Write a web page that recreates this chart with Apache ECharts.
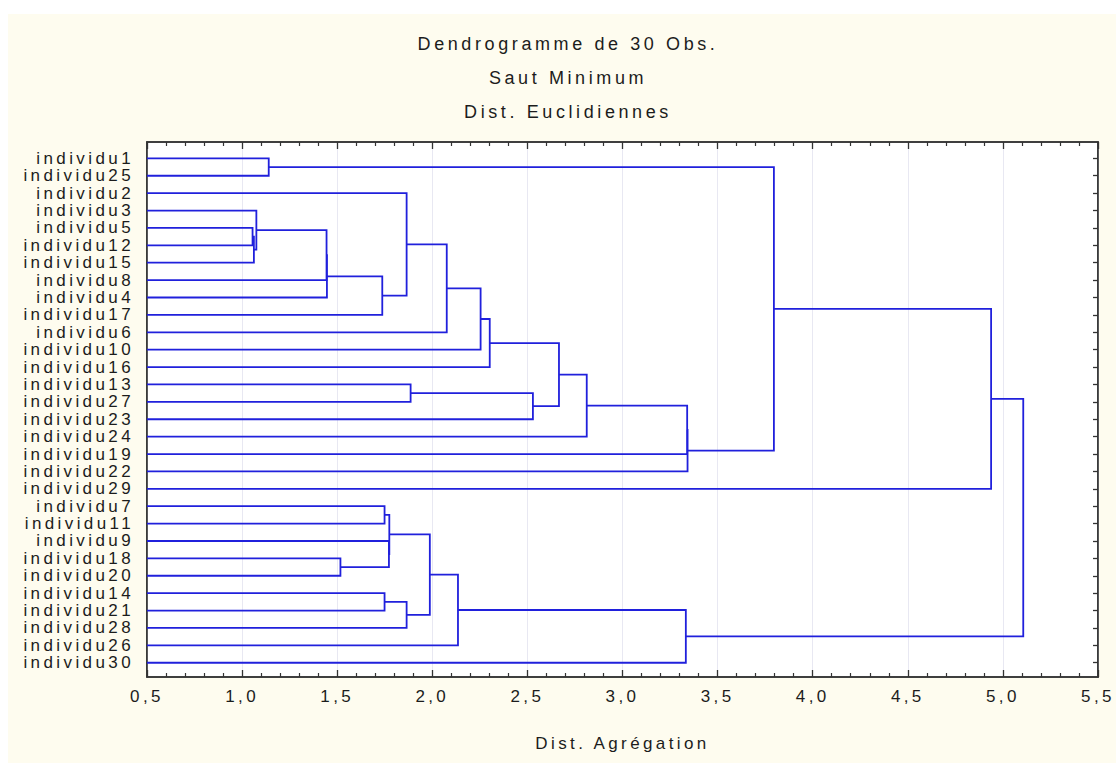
<!DOCTYPE html>
<html>
<head>
<meta charset="utf-8">
<title>Dendrogramme de 30 Obs.</title>
<script src="https://cdn.jsdelivr.net/npm/echarts@6/dist/echarts.min.js"></script>
<style>
  html, body { margin: 0; padding: 0; background: #ffffff; }
  #wrap { position: relative; width: 1116px; height: 763px; overflow: hidden; }
  #panel { position: absolute; left: 8px; top: 14px; right: 0; bottom: 0; background: #fefcef; }
  #chart { position: absolute; left: 0; top: 0; width: 1116px; height: 763px; }
</style>
</head>
<body>
<div id="wrap">
  <div id="panel"></div>
  <div id="chart"></div>
</div>
<script>
// Leaves, top to bottom
const leafNames = [
  'individu1', 'individu25', 'individu2', 'individu3', 'individu5', 'individu12',
  'individu15', 'individu8', 'individu4', 'individu17', 'individu6', 'individu10',
  'individu16', 'individu13', 'individu27', 'individu23', 'individu24', 'individu19',
  'individu22', 'individu29', 'individu7', 'individu11', 'individu9', 'individu18',
  'individu20', 'individu14', 'individu21', 'individu28', 'individu26', 'individu30'
];

// Merge steps: a leaf name or the index of an earlier merge, joined at a distance
const mergeLeft = [
  'individu1', 'individu5', 1, 'individu3', 3, 4, 5, 'individu2', 7, 8,
  9, 'individu13', 11, 10, 13, 14, 15, 0, 17, 'individu18',
  'individu7', 'individu14', 'individu9', 20, 21, 23, 25, 26, 18
];
const mergeRight = [
  'individu25', 'individu12', 'individu15', 2, 'individu8', 'individu4', 'individu17', 6, 'individu6', 'individu10',
  'individu16', 'individu27', 'individu23', 12, 'individu24', 'individu19', 'individu22', 16, 'individu29', 'individu20',
  'individu11', 'individu21', 19, 22, 'individu28', 24, 'individu26', 'individu30', 27
];
const mergeHeight = [
  1.14, 1.055, 1.062, 1.075, 1.444, 1.446, 1.737, 1.865, 2.076, 2.254,
  2.302, 1.886, 2.529, 2.666, 2.812, 3.340, 3.342, 3.796, 4.938, 1.517,
  1.749, 1.749, 1.772, 1.774, 1.865, 1.987, 2.135, 3.333, 5.107
];

const titleLines = ['Dendrogramme de 30 Obs.', 'Saut Minimum', 'Dist. Euclidiennes'];
const xAxisName = 'Dist. Agrégation';

const X_MIN = 0.5, X_MAX = 5.5, X_STEP = 0.5;
const FONT = "'Liberation Sans', Arial, sans-serif";
const INK = '#1c1c1c';
const FRAME = '#333333';
const LINK = '#2020dc';

// Position of every node: leaves sit on the left edge, merges at their distance,
// vertically halfway between the two joined nodes.
const leafPos = {};
leafNames.forEach((n, i) => { leafPos[n] = { h: X_MIN, y: i + 1 }; });
const mergePos = [];
const links = [];
mergeHeight.forEach((h, k) => {
  const pick = r => (typeof r === 'number' ? mergePos[r] : leafPos[r]);
  const a = pick(mergeLeft[k]);
  const b = pick(mergeRight[k]);
  mergePos[k] = { h: h, y: (a.y + b.y) / 2 };
  links.push([a.h, a.y, b.h, b.y, h]);
});

const rowValues = leafNames.map((_, i) => i + 1);

const chart = echarts.init(document.getElementById('chart'), null, { renderer: 'svg' });

const xAxisBase = {
  type: 'value',
  min: X_MIN,
  max: X_MAX,
  interval: X_STEP,
  axisLine: { show: true, onZero: false, lineStyle: { color: FRAME, width: 1.6 } },
  axisTick: { show: true, inside: true, length: 7, lineStyle: { color: FRAME, width: 1.3 } },
  minorTick: { show: true, splitNumber: 5, length: 4, lineStyle: { color: FRAME, width: 1.2 } },
  splitLine: { show: false }
};

const option = {
  animation: false,
  backgroundColor: 'transparent',
  textStyle: { fontFamily: FONT, color: INK },
  title: titleLines.map((t, i) => ({
    text: t,
    left: 568,
    top: 35 + i * 34,
    textAlign: 'center',
    padding: 0,
    textStyle: { fontFamily: FONT, fontSize: 18, fontWeight: 'normal', color: INK }
  })),
  grid: {
    left: 147, right: 18, top: 142, bottom: 86,
    show: true, backgroundColor: '#ffffff', borderColor: FRAME, borderWidth: 1.6
  },
  xAxis: [
    Object.assign({}, xAxisBase, {
      position: 'bottom',
      name: xAxisName,
      nameLocation: 'middle',
      nameGap: 58,
      nameTextStyle: { fontFamily: FONT, fontSize: 17, color: INK },
      axisLabel: {
        show: true, margin: 11, fontFamily: FONT, fontSize: 17, color: INK,
        formatter: v => v.toFixed(1).replace('.', ',')
      },
      splitLine: { show: true, lineStyle: { color: '#e8e8f2', width: 1 } }
    }),
    Object.assign({}, xAxisBase, {
      position: 'top',
      axisLabel: { show: false }
    })
  ],
  yAxis: [
    {
      type: 'value',
      position: 'left',
      inverse: true,
      min: 0.06,
      max: 30.82,
      axisLine: { show: true, lineStyle: { color: FRAME, width: 1.6 } },
      axisTick: { show: false },
      splitLine: { show: false },
      axisLabel: {
        show: true,
        customValues: rowValues,
        hideOverlap: false,
        margin: 13,
        fontFamily: FONT,
        fontSize: 17,
        lineHeight: 17,
        color: INK,
        formatter: v => leafNames[Math.round(v) - 1] || ''
      }
    },
    {
      type: 'value',
      position: 'right',
      inverse: true,
      min: 0.06,
      max: 30.82,
      axisLine: { show: true, lineStyle: { color: FRAME, width: 1.6 } },
      axisTick: {
        show: true, inside: true, length: 5, customValues: rowValues,
        lineStyle: { color: FRAME, width: 1.3 }
      },
      axisLabel: { show: false },
      splitLine: { show: false }
    }
  ],
  series: [{
    type: 'custom',
    xAxisIndex: 0,
    yAxisIndex: 0,
    silent: true,
    clip: false,
    data: links,
    encode: { x: [0, 2, 4], y: [1, 3] },
    renderItem: function (params, api) {
      const hA = api.value(0), yA = api.value(1);
      const hB = api.value(2), yB = api.value(3);
      const h = api.value(4);
      return {
        type: 'polyline',
        shape: { points: [api.coord([hA, yA]), api.coord([h, yA]), api.coord([h, yB]), api.coord([hB, yB])] },
        style: { stroke: LINK, lineWidth: 1.8, fill: null }
      };
    }
  }]
};

chart.setOption(option);

// Wide, evenly spaced lettering
function spaceLetters() {
  document.querySelectorAll('#chart svg text').forEach(t => {
    const s = t.textContent;
    t.style.letterSpacing = titleLines.indexOf(s) >= 0 ? '3.6px' : '3.4px';
  });
}
chart.getZr().flush();
spaceLetters();
chart.on('finished', spaceLetters);
</script>
</body>
</html>
